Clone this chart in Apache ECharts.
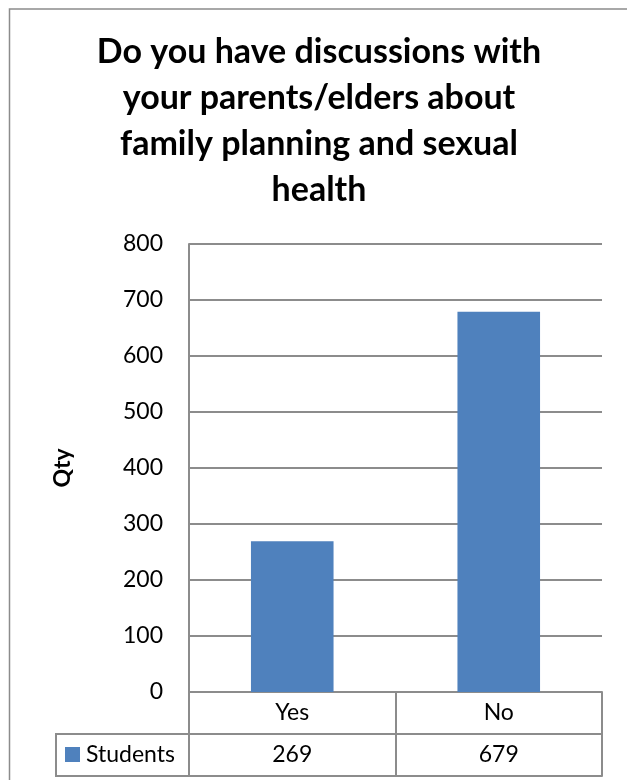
<!DOCTYPE html>
<html>
<head>
<meta charset="utf-8">
<title>Family planning discussions</title>
<script src="https://cdn.jsdelivr.net/npm/echarts@6/dist/echarts.min.js"></script>
<style>
  html, body { margin: 0; padding: 0; background: #fff; }
  #chart { width: 627px; height: 780px; }
</style>
</head>
<body>
<div id="chart"></div>
<script>
// Survey answers and counts
const categories = ['Yes', 'No'];
const seriesName = 'Students';
const students = [269, 679];

// Value axis range
const yMin = 0;
const yMax = 800;
const yStep = 100;

const titleLines = [
  'Do you have discussions with',
  'your parents/elders about',
  'family planning and sexual',
  'health'
];
const yAxisTitle = 'Qty';

// Layout
const FONT = 'Lato, "Open Sans", sans-serif';
const GRAY = '#8c8c8c';
const BAR = '#4f81bd';
const gridLeft = 189, gridRight = 25, gridTop = 244, gridBottom = 88;
const rowH = 42;
const legendCellLeft = 56;

const chart = echarts.init(document.getElementById('chart'), null, { renderer: 'canvas' });

const axisLineStyle = { color: GRAY, width: 2 };
const tableLabel = { fontSize: 23, fontFamily: FONT, color: '#000', margin: rowH / 2, verticalAlign: 'middle' };

const plotBottom = 780 - gridBottom;

chart.setOption({
  backgroundColor: '#fff',
  animation: false,
  title: {
    text: titleLines.join('\n'),
    left: 314,
    top: 24,
    textAlign: 'center',
    textStyle: { fontFamily: FONT, fontWeight: 'bold', fontSize: 34, lineHeight: 46, color: '#000' }
  },
  legend: {
    data: [seriesName],
    left: 65,
    top: plotBottom + rowH + 9,
    padding: 0,
    itemWidth: 15,
    itemHeight: 15,
    itemGap: 0,
    icon: 'rect',
    textStyle: { fontSize: 23, fontFamily: FONT, color: '#000', padding: [0, 0, 0, 1] }
  },
  grid: { left: gridLeft, right: gridRight, top: gridTop, bottom: gridBottom, outerBoundsMode: 'none' },
  xAxis: [
    {
      type: 'category',
      data: categories,
      position: 'bottom',
      axisLine: { lineStyle: axisLineStyle },
      axisTick: { show: true, length: rowH * 2, lineStyle: axisLineStyle },
      axisLabel: tableLabel,
      splitLine: { show: false }
    },
    {
      type: 'category',
      data: categories,
      position: 'bottom',
      offset: rowH,
      axisLine: { lineStyle: axisLineStyle },
      axisTick: { show: false },
      axisLabel: Object.assign({}, tableLabel, { formatter: (v, i) => String(students[i]) }),
      splitLine: { show: false }
    },
    {
      type: 'category',
      data: categories,
      position: 'bottom',
      offset: rowH * 2,
      axisLine: { lineStyle: axisLineStyle },
      axisTick: { show: false },
      axisLabel: { show: false },
      splitLine: { show: false }
    }
  ],
  yAxis: {
    type: 'value',
    min: yMin,
    max: yMax,
    interval: yStep,
    name: yAxisTitle,
    nameLocation: 'middle',
    nameRotate: 90,
    nameGap: 115,
    nameTextStyle: { fontFamily: FONT, fontWeight: 'bold', fontSize: 23, color: '#000' },
    axisLine: { show: true, lineStyle: axisLineStyle },
    axisTick: { show: false },
    axisLabel: { fontSize: 23, fontFamily: FONT, color: '#000', margin: 26 },
    splitLine: { show: true, lineStyle: axisLineStyle }
  },
  series: [
    {
      name: seriesName,
      type: 'bar',
      xAxisIndex: 0,
      data: students,
      barWidth: '40%',
      itemStyle: { color: BAR }
    }
  ],
  graphic: [
    // chart frame
    {
      type: 'rect',
      shape: { x: 9.5, y: 9, width: 700, height: 800 },
      style: { fill: 'none', stroke: GRAY, lineWidth: 1.5 },
      silent: true
    },
    // legend key cell of the data table
    {
      type: 'rect',
      shape: { x: legendCellLeft, y: plotBottom + rowH, width: gridLeft - legendCellLeft, height: rowH },
      style: { fill: 'none', stroke: GRAY, lineWidth: 2 },
      silent: true
    }
  ]
});
</script>
</body>
</html>
